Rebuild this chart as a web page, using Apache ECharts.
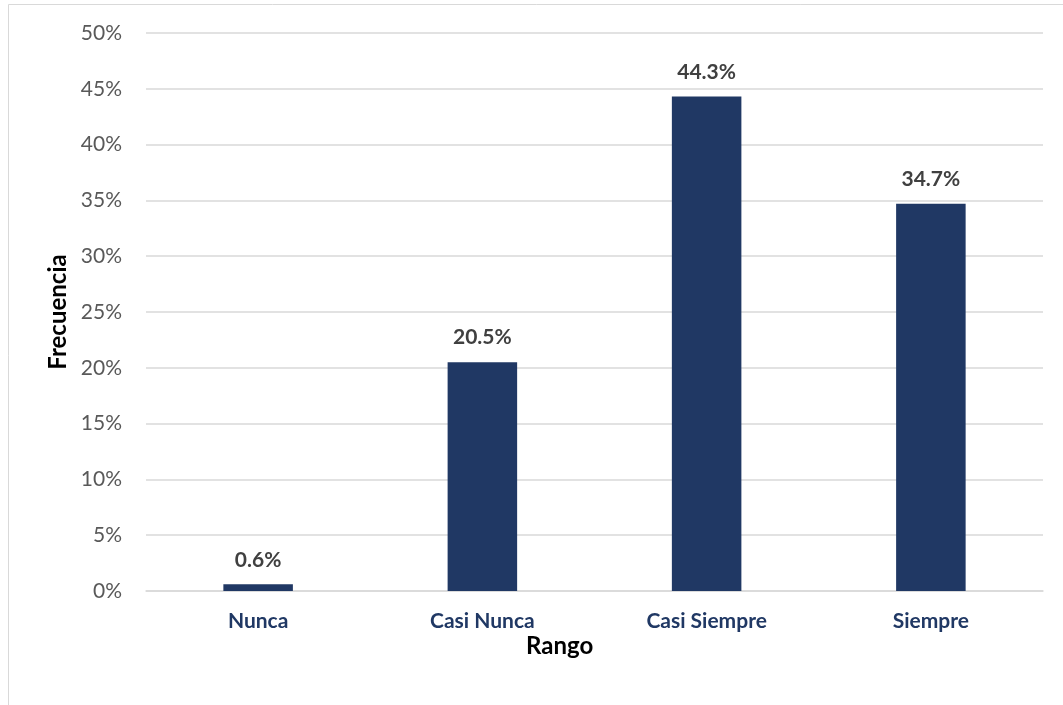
<!DOCTYPE html>
<html>
<head>
<meta charset="utf-8">
<script src="https://cdn.jsdelivr.net/npm/echarts@6/dist/echarts.min.js"></script>
<style>
  html, body { margin: 0; padding: 0; background: #fff; }
  #container { width: 1063px; height: 705px; }
</style>
</head>
<body>
<div id="container"></div>
<script>
// datos
var categories = ['Nunca', 'Casi Nunca', 'Casi Siempre', 'Siempre'];
var values = [0.6, 20.5, 44.3, 34.7];

var myChart = echarts.init(document.getElementById('container'));

var option = {
    backgroundColor: '#fff',
    animation: false,
    textStyle: { fontFamily: 'Lato' },
    graphic: [
        {   // borde del area del grafico
            type: 'rect',
            shape: { x: 8.5, y: 4.5, width: 1200, height: 900 },
            style: { fill: 'none', stroke: '#d9d9d9', lineWidth: 1 },
            silent: true
        },
        {
            type: 'text',
            left: 526,
            top: 634,
            style: { text: 'Rango', fill: '#000', font: 'bold 24px Lato' }
        }
    ],
    grid: { left: 146, right: 20, top: 33, bottom: 114 },
    xAxis: {
        type: 'category',
        data: categories,
        axisLine: { lineStyle: { color: '#d9d9d9', width: 1.5 } },
        axisTick: { show: false },
        axisLabel: {
            color: '#203864',
            fontWeight: 'bold',
            fontSize: 21,
            margin: 20,
            fontFamily: 'Lato'
        }
    },
    yAxis: {
        type: 'value',
        min: 0,
        max: 50,
        interval: 5,
        name: 'Frecuencia',
        nameLocation: 'middle',
        nameGap: 74,
        nameTextStyle: { color: '#000', fontWeight: 'bold', fontSize: 24, fontFamily: 'Lato' },
        axisLine: { show: false },
        axisTick: { show: false },
        splitLine: { lineStyle: { color: '#d9d9d9', width: 1.5 } },
        axisLabel: {
            color: '#595959',
            fontSize: 21,
            margin: 24,
            fontFamily: 'Lato',
            formatter: '{value}%'
        }
    },
    series: [{
        type: 'bar',
        data: values,
        barWidth: '31%',
        itemStyle: { color: '#203864' },
        label: {
            show: true,
            position: 'top',
            distance: 14,
            color: '#404040',
            fontWeight: 'bold',
            fontSize: 21,
            fontFamily: 'Lato',
            formatter: function (p) { return p.value.toFixed(1) + '%'; }
        }
    }]
};

myChart.setOption(option);
</script>
</body>
</html>
